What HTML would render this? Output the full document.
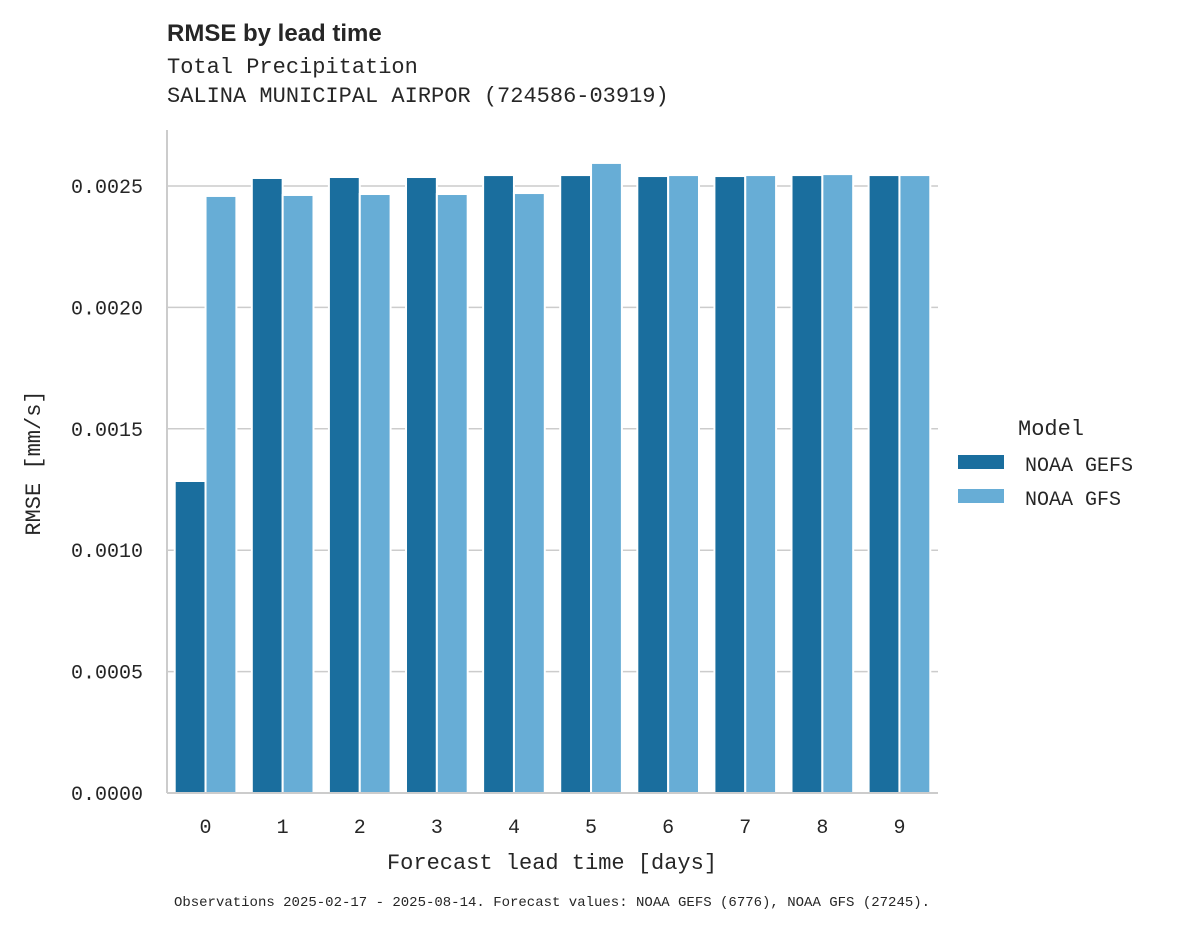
<!DOCTYPE html>
<html><head><meta charset="utf-8"><style>
body{margin:0;background:#fff;}
svg text{font-family:"Liberation Mono",monospace;fill:#262626;}
</style></head><body>
<svg width="1178" height="928" viewBox="0 0 1178 928">
<text x="167" y="41" style="font-family:'Liberation Sans',sans-serif;font-weight:bold;font-size:24px">RMSE by lead time</text>
<text x="167" y="73" font-size="22">Total Precipitation</text>
<text x="167" y="102" font-size="22">SALINA MUNICIPAL AIRPOR (724586-03919)</text>
<g id="grid"></g>
<g id="bars"></g>
<g id="axes"></g>
<text x="40" y="463" font-size="22" text-anchor="middle" transform="rotate(-90 40 463)">RMSE [mm/s]</text>
<text x="552" y="869" font-size="22" text-anchor="middle">Forecast lead time [days]</text>
<text x="552" y="906" font-size="14" text-anchor="middle">Observations 2025-02-17 - 2025-08-14. Forecast values: NOAA GEFS (6776), NOAA GFS (27245).</text>
<g>
<text x="1018" y="435" font-size="22">Model</text>
<rect x="958" y="455" width="46" height="14" fill="#1a6e9e"/>
<text x="1025" y="471" font-size="20">NOAA GEFS</text>
<rect x="958" y="489" width="46" height="14" fill="#67add6"/>
<text x="1025" y="505" font-size="20">NOAA GFS</text>
</g>
</svg>
<script>
const categories=["0","1","2","3","4","5","6","7","8","9"];
const gefs=[0.001285,0.002533,0.002537,0.002537,0.002545,0.002545,0.002541,0.002541,0.002545,0.002545];
const gfs=[0.002459,0.002463,0.002467,0.002467,0.002471,0.002595,0.002545,0.002545,0.002549,0.002545];
const yTicks=[0,0.0005,0.001,0.0015,0.002,0.0025];
const yTickLabels=["0.0000","0.0005","0.0010","0.0015","0.0020","0.0025"];
const NS="http://www.w3.org/2000/svg";
const x0=167,x1=938,y0=793,yTop=130;
const y=v=>y0-v/0.0025*607;
const band=(x1-x0)/categories.length;
const grid=document.getElementById('grid'),bars=document.getElementById('bars'),axes=document.getElementById('axes');
function mk(tag,attrs,parent){const e=document.createElementNS(NS,tag);for(const k in attrs)e.setAttribute(k,attrs[k]);parent.appendChild(e);return e;}
yTicks.forEach((t,i)=>{
 if(t>0){const l=mk('line',{x1:x0,x2:x1,y1:y(t),y2:y(t),stroke:'#cccccc','stroke-width':1.5},grid);
 
 }
 const tx=mk('text',{x:143,y:y(t)+7,'font-size':20,'text-anchor':'end'},axes);
 tx.textContent=yTickLabels[i];
 
 
});
const bw=band*0.8/2;
categories.forEach((c,i)=>{
 const cx=x0+band*(i+0.5);
 [[gefs,'#1a6e9e','bar-gefs',-1],[gfs,'#67add6','bar-gfs',0]].forEach(([arr,col,nm,off])=>{
  const r=mk('rect',{x:cx+off*bw,y:y(arr[i]),width:bw,height:y0-y(arr[i]),fill:col,stroke:'#fff','stroke-width':2},bars);
  
  
 });
 const tx=mk('text',{x:cx,y:833,'font-size':20,'text-anchor':'middle'},axes);
 tx.textContent=c;
 
 
});
const ya=mk('line',{x1:x0,x2:x0,y1:yTop,y2:y0,stroke:'#cccccc','stroke-width':2},axes);


const xa=mk('line',{x1:x0,x2:x1,y1:y0,y2:y0,stroke:'#cccccc','stroke-width':2},axes);


</script>
</body></html>
